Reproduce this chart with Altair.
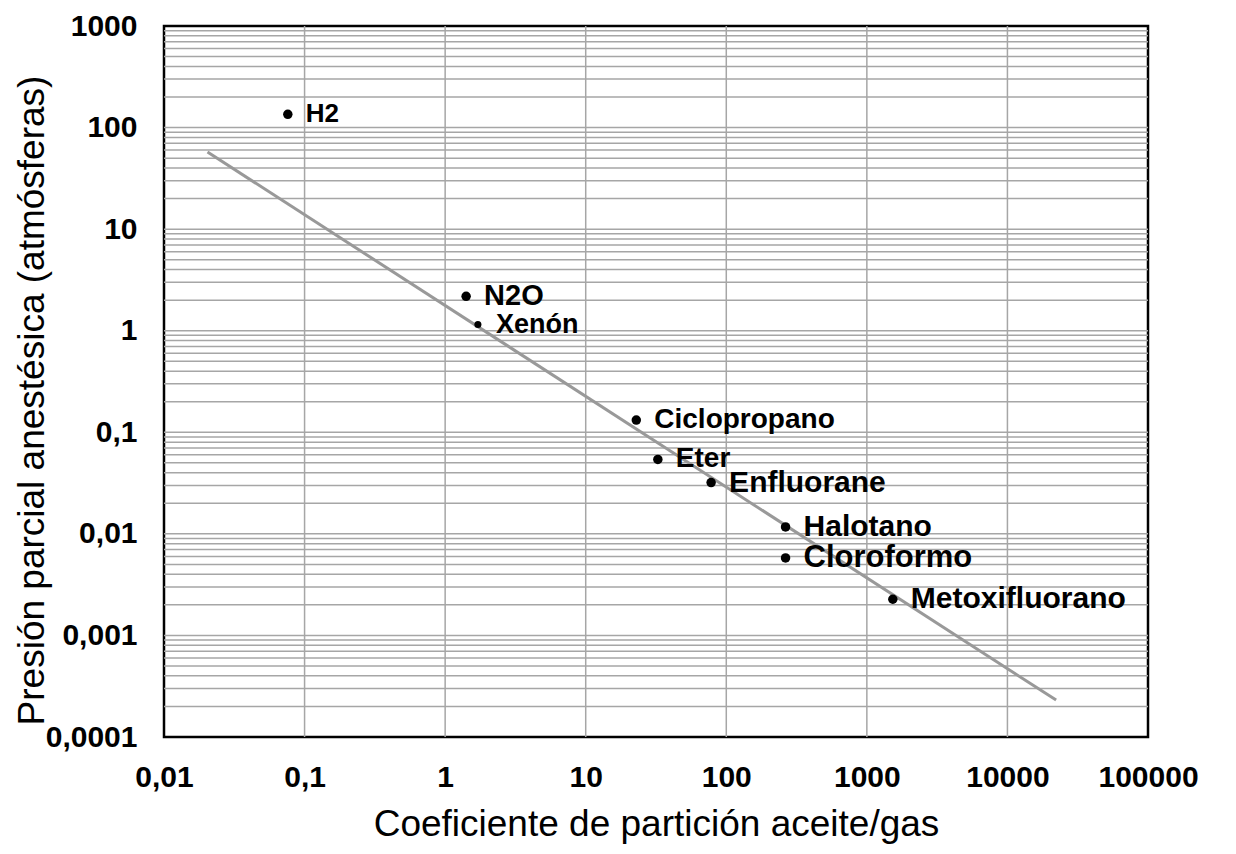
import altair as alt
import pandas as pd

# ---- data ----
names = ["H2", "N2O", "Xenón", "Ciclopropano", "Eter", "Enfluorane",
         "Halotano", "Cloroformo", "Metoxifluorano"]
coef = [0.076, 1.41, 1.71, 22.9, 32.6, 78, 264, 264, 1530]          # oil/gas partition
pressure = [135, 2.18, 1.15, 0.132, 0.054, 0.032, 0.0117, 0.0058, 0.00227]  # atm

fit_x = [0.0204, 22200]
fit_y = [57.4, 0.000231]

x_ticks = [0.01, 0.1, 1, 10, 100, 1000, 10000, 100000]
y_ticks = [0.0001, 0.001, 0.01, 0.1, 1, 10, 100, 1000]

# ---- styles ----
label_sizes = [26, 29, 27, 28, 28, 30, 30, 31, 30]
dot_sizes = [90, 90, 50, 90, 90, 90, 90, 90, 90]

FONT = "Liberation Sans"
W, H = 984, 711

pts = pd.DataFrame({"name": names, "x": coef, "y": pressure,
                    "fs": label_sizes, "ds": dot_sizes})
fit = pd.DataFrame({"x": fit_x, "y": fit_y})

y_minor = [float(f"{m}e{e}") for e in range(-4, 3) for m in range(1, 10)]
y_minor = [v for v in y_minor if 0.0001 < v < 1000]
x_major = [v for v in x_ticks if 0.01 < v < 100000]

xs = alt.Scale(type="log", domain=[0.01, 100000], nice=False)
ys = alt.Scale(type="log", domain=[0.0001, 1000], nice=False)

lab_expr = "replace(toString(datum.value), '.', ',')"

x_axis = alt.Axis(values=x_ticks, labelExpr=lab_expr, grid=False, ticks=False,
                  domain=False, labelFont=FONT, labelFontSize=30,
                  labelFontWeight="bold", labelColor="black", labelPadding=25,
                  title="Coeficiente de partición aceite/gas", titleFont=FONT,
                  titleFontSize=37, titleFontWeight="normal", titleColor="black",
                  titlePadding=14, labelFlush=False, labelOverlap=False)
y_axis = alt.Axis(values=y_ticks, labelExpr=lab_expr, grid=False, ticks=False,
                  domain=False, labelFont=FONT, labelFontSize=30,
                  labelFontWeight="bold", labelColor="black", labelPadding=27,
                  title="Presión parcial anestésica (atmósferas)", titleFont=FONT,
                  titleFontSize=37, titleFontWeight="normal", titleColor="black",
                  titleX=-113, titleY=374, titleBaseline="bottom", titleAngle=270,
                  titleAlign="center", labelFlush=False, labelOverlap=False)

hgrid = alt.Chart(pd.DataFrame({"v": y_minor})).mark_rule(
    color="#a6a6a6", strokeWidth=1.5).encode(y=alt.Y("v:Q", scale=ys, axis=y_axis))
vgrid = alt.Chart(pd.DataFrame({"v": x_major})).mark_rule(
    color="#a6a6a6", strokeWidth=1.5).encode(x=alt.X("v:Q", scale=xs, axis=x_axis))

line = alt.Chart(fit).mark_line(color="#999999", strokeWidth=3).encode(
    x=alt.X("x:Q", scale=xs, axis=x_axis), y=alt.Y("y:Q", scale=ys, axis=y_axis))

dots = alt.Chart(pts).mark_circle(color="black", opacity=1).encode(
    x=alt.X("x:Q", scale=xs, axis=x_axis), y=alt.Y("y:Q", scale=ys, axis=y_axis),
    size=alt.Size("ds:Q", scale=None, legend=None))

labels = alt.Chart(pts).mark_text(align="left", baseline="middle", dx=18,
                                  font=FONT, fontWeight="bold", color="black").encode(
    x=alt.X("x:Q", scale=xs, axis=x_axis), y=alt.Y("y:Q", scale=ys, axis=y_axis),
    text="name:N", size=alt.Size("fs:Q", scale=None, legend=None))

chart = alt.layer(hgrid, vgrid, line, dots, labels).properties(
    width=W, height=H,
    autosize=alt.AutoSizeParams(type="none"),
    padding={"left": 156, "top": 18, "right": 80, "bottom": 115},
    background="white",
).configure_view(stroke="black", strokeWidth=2.5)

chart.save("out.html", embed_options={"renderer": "svg", "actions": False})
